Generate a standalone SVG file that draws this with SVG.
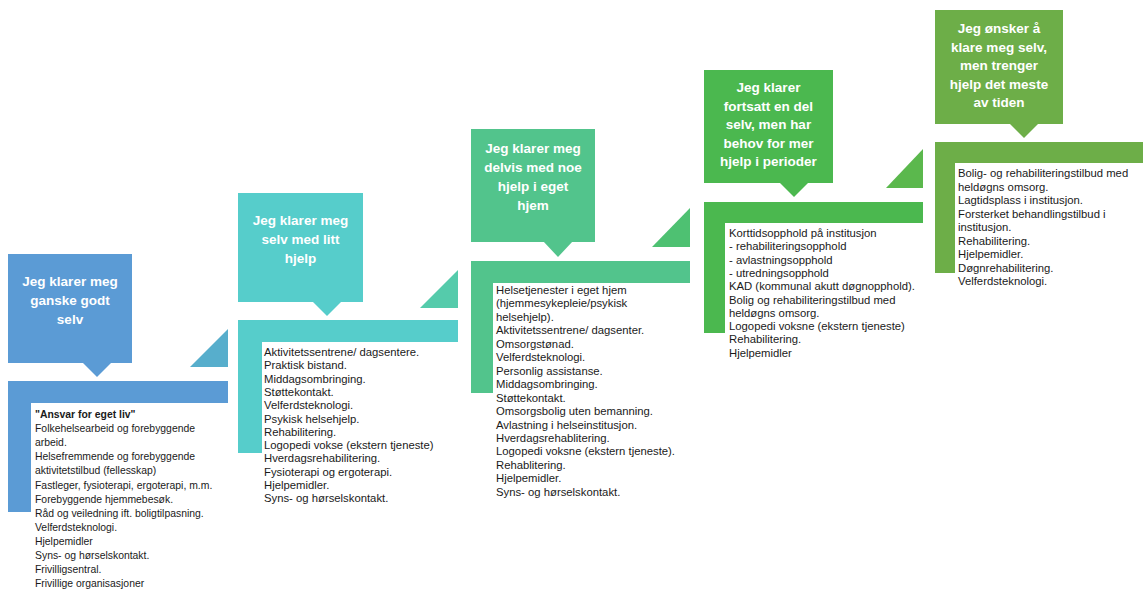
<svg xmlns="http://www.w3.org/2000/svg" width="1143" height="589" viewBox="0 0 1143 589">
<style>
.head{font-family:"Liberation Sans",Arial,sans-serif;font-weight:bold;font-size:13.5px;fill:#ffffff;text-anchor:middle}
.body{font-family:"Liberation Sans",Arial,sans-serif;font-size:11.3px;fill:#1a1a1a}
.body1{font-family:"Liberation Sans",Arial,sans-serif;font-size:10.4px;fill:#1a1a1a}
.c1{fill:#5B9BD5}.c2{fill:#56CDCB}.c3{fill:#52C48C}.c4{fill:#4BB84F}.c5{fill:#6DAE48}
</style>
<rect width="1143" height="589" fill="#ffffff"/>
<g id="connectors">
<polygon points="190,367 228,367 228,329" fill="#57AECC"/>
<polygon points="420,308 458,308 458,270" fill="#55CBAB"/>
<polygon points="652,247 690,247 690,208" fill="#4EC172"/>
<polygon points="886,188 923,188 923,149" fill="#5BB84D"/>
</g>
<g id="step1">
<rect class="c1" x="8" y="254" width="124" height="109"/>
<polygon class="c1" points="82,362 112,362 97,377"/>
<polygon class="c1" points="8,381 228,381 228,403 31,403 31,512 8,512"/>
<text class="head"><tspan x="70" y="286">Jeg klarer meg</tspan><tspan x="70" y="305">ganske godt</tspan><tspan x="70" y="324">selv</tspan></text>
<text class="body1"><tspan x="35" y="418" font-weight="bold">"Ansvar for eget liv"</tspan><tspan x="35" y="432.1">Folkehelsearbeid og forebyggende</tspan><tspan x="35" y="446.2">arbeid.</tspan><tspan x="35" y="460.3">Helsefremmende og forebyggende</tspan><tspan x="35" y="474.4">aktivitetstilbud (fellesskap)</tspan><tspan x="35" y="488.5">Fastleger, fysioterapi, ergoterapi, m.m.</tspan><tspan x="35" y="502.6">Forebyggende hjemmebesøk.</tspan><tspan x="35" y="516.7">Råd og veiledning ift. boligtilpasning.</tspan><tspan x="35" y="530.8">Velferdsteknologi.</tspan><tspan x="35" y="544.9">Hjelpemidler</tspan><tspan x="35" y="559">Syns- og hørselskontakt.</tspan><tspan x="35" y="573.1">Frivilligsentral.</tspan><tspan x="35" y="587.2">Frivillige organisasjoner</tspan></text>
</g>
<g id="step2">
<rect class="c2" x="238" y="193" width="125" height="109"/>
<polygon class="c2" points="312,301 342,301 327,316"/>
<polygon class="c2" points="238,320 458,320 458,342 262,342 262,453 238,453"/>
<text class="head"><tspan x="300.5" y="225">Jeg klarer meg</tspan><tspan x="300.5" y="244">selv med litt</tspan><tspan x="300.5" y="263">hjelp</tspan></text>
<text class="body"><tspan x="264" y="356">Aktivitetssentrene/ dagsentere.</tspan><tspan x="264" y="369.3">Praktisk bistand.</tspan><tspan x="264" y="382.6">Middagsombringing.</tspan><tspan x="264" y="395.9">Støttekontakt.</tspan><tspan x="264" y="409.2">Velferdsteknologi.</tspan><tspan x="264" y="422.5">Psykisk helsehjelp.</tspan><tspan x="264" y="435.8">Rehabilitering.</tspan><tspan x="264" y="449.1">Logopedi vokse (ekstern tjeneste)</tspan><tspan x="264" y="462.4">Hverdagsrehabilitering.</tspan><tspan x="264" y="475.7">Fysioterapi og ergoterapi.</tspan><tspan x="264" y="489">Hjelpemidler.</tspan><tspan x="264" y="502.3">Syns- og hørselskontakt.</tspan></text>
</g>
<g id="step3">
<rect class="c3" x="471" y="129" width="124" height="113"/>
<polygon class="c3" points="543,241 573,241 558,257"/>
<polygon class="c3" points="471,261 690,261 690,283 493,283 493,393 471,393"/>
<text class="head"><tspan x="533" y="153">Jeg klarer meg</tspan><tspan x="533" y="172">delvis med noe</tspan><tspan x="533" y="191">hjelp i eget</tspan><tspan x="533" y="210">hjem</tspan></text>
<text class="body"><tspan x="496" y="294">Helsetjenester i eget hjem</tspan><tspan x="496" y="307.45">(hjemmesykepleie/psykisk</tspan><tspan x="496" y="320.9">helsehjelp).</tspan><tspan x="496" y="334.35">Aktivitetssentrene/ dagsenter.</tspan><tspan x="496" y="347.8">Omsorgstønad.</tspan><tspan x="496" y="361.25">Velferdsteknologi.</tspan><tspan x="496" y="374.7">Personlig assistanse.</tspan><tspan x="496" y="388.15">Middagsombringing.</tspan><tspan x="496" y="401.6">Støttekontakt.</tspan><tspan x="496" y="415.05">Omsorgsbolig uten bemanning.</tspan><tspan x="496" y="428.5">Avlastning i helseinstitusjon.</tspan><tspan x="496" y="441.95">Hverdagsrehablitering.</tspan><tspan x="496" y="455.4">Logopedi voksne (ekstern tjeneste).</tspan><tspan x="496" y="468.85">Rehablitering.</tspan><tspan x="496" y="482.3">Hjelpemidler.</tspan><tspan x="496" y="495.75">Syns- og hørselskontakt.</tspan></text>
</g>
<g id="step4">
<rect class="c4" x="704" y="70" width="129" height="113"/>
<polygon class="c4" points="779,182 809,182 794,197"/>
<polygon class="c4" points="704,202 923,202 923,223 725,223 725,333 704,333"/>
<text class="head"><tspan x="768.5" y="92">Jeg klarer</tspan><tspan x="768.5" y="110.5">fortsatt  en del</tspan><tspan x="768.5" y="129">selv, men har</tspan><tspan x="768.5" y="147.5">behov for mer</tspan><tspan x="768.5" y="166">hjelp i perioder</tspan></text>
<text class="body"><tspan x="729" y="237">Korttidsopphold på institusjon</tspan><tspan x="729" y="250.3">- rehabiliteringsopphold</tspan><tspan x="729" y="263.6">- avlastningsopphold</tspan><tspan x="729" y="276.9">- utredningsopphold</tspan><tspan x="729" y="290.2">KAD (kommunal akutt døgnopphold).</tspan><tspan x="729" y="303.5">Bolig og rehabiliteringstilbud med</tspan><tspan x="729" y="316.8">heldøgns omsorg.</tspan><tspan x="729" y="330.1">Logopedi voksne (ekstern tjeneste)</tspan><tspan x="729" y="343.4">Rehabilitering.</tspan><tspan x="729" y="356.7">Hjelpemidler</tspan></text>
</g>
<g id="step5">
<rect class="c5" x="935" y="10" width="128" height="114"/>
<polygon class="c5" points="1009,123 1039,123 1024,138"/>
<polygon class="c5" points="935,142 1143,142 1143,163 955,163 955,273 935,273"/>
<text class="head"><tspan x="999" y="33">Jeg ønsker å</tspan><tspan x="999" y="51.5">klare  meg selv,</tspan><tspan x="999" y="70">men trenger</tspan><tspan x="999" y="88.5">hjelp det meste</tspan><tspan x="999" y="107">av tiden</tspan></text>
<text class="body"><tspan x="958" y="177">Bolig- og rehabiliteringstilbud med</tspan><tspan x="958" y="190.5">heldøgns omsorg.</tspan><tspan x="958" y="204">Lagtidsplass i institusjon.</tspan><tspan x="958" y="217.5">Forsterket behandlingstilbud i</tspan><tspan x="958" y="231">institusjon.</tspan><tspan x="958" y="244.5">Rehabilitering.</tspan><tspan x="958" y="258">Hjelpemidler.</tspan><tspan x="958" y="271.5">Døgnrehabilitering.</tspan><tspan x="958" y="285">Velferdsteknologi.</tspan></text>
</g>
</svg>
